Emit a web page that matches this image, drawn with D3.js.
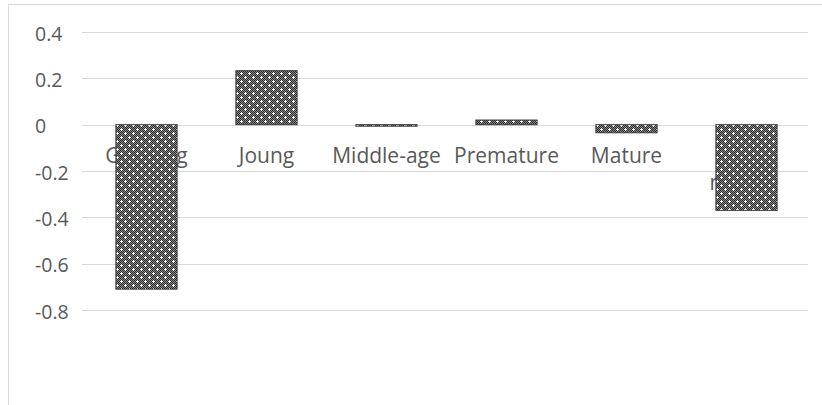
<!DOCTYPE html>
<html lang="en">
<head>
    <meta charset="UTF-8">
    <title>Chart</title>
    <script src="https://d3js.org/d3.v7.min.js"></script>
    <style>
        body { margin: 0; background: #fff; }
        .grid line { stroke: #d9d9d9; stroke-width: 1; }
        .tick-label, .cat-label {
            font-family: "Open Sans", "Noto Sans", sans-serif;
            fill: #595959;
        }
        .tick-label { font-size: 19.5px; }
        .cat-label { font-size: 21px; }
        .bar { fill: url(#dots); stroke: #3a3a3a; stroke-width: 1; }
    </style>
</head>
<body>
<script>
    const width = 822;
    const height = 405;

    const categories = ["Growing", "Joung", "Middle-age", "Premature", "Mature", "Over-mature"];
    const values = [-0.71, 0.233, -0.005, 0.02, -0.035, -0.37];
    const yTicks = [0.4, 0.2, 0, -0.2, -0.4, -0.6, -0.8];

    const svg = d3.select("body").append("svg")
            .attr("width", width).attr("height", height);

    // chart frame
    svg.append("rect")
        .attr("x", 8.5).attr("y", 4.5)
        .attr("width", width + 10).attr("height", height + 10)
        .attr("fill", "none").attr("stroke", "#d9d9d9");

    // dotted fill pattern
    const defs = svg.append("defs");
    const pat = defs.append("pattern")
        .attr("id", "dots").attr("patternUnits", "userSpaceOnUse")
        .attr("width", 8).attr("height", 8);
    pat.append("rect").attr("width", 8).attr("height", 8).attr("fill", "#8a8a8a");
    for (let i = 0; i < 8; i++) {
        for (let j = 0; j < 8; j++) {
            if ((i + j) % 2 === 0) {
                pat.append("rect").attr("x", i).attr("y", j)
                    .attr("width", 1).attr("height", 1).attr("fill", "#2a2a2a");
            }
        }
    }
    [[1, 1], [5, 5]].forEach(([cx, cy]) => {
        pat.append("rect").attr("x", cx - 1).attr("y", cy).attr("width", 3).attr("height", 1).attr("fill", "#fff");
        pat.append("rect").attr("x", cx).attr("y", cy - 1).attr("width", 1).attr("height", 3).attr("fill", "#fff");
    });

    const x = d3.scaleBand()
        .domain(categories)
        .range([86.5, 806.5])
        .paddingInner(0.49)
        .paddingOuter(0.245);

    const y = d3.scaleLinear()
        .domain([-0.8, 0.4])
        .range([310, 32]);

    // gridlines
    svg.append("g").attr("class", "grid")
        .selectAll("line")
        .data(yTicks)
        .enter()
        .append("line")
        .attr("x1", 82).attr("x2", 808)
        .attr("y1", d => Math.round(y(d)) + 0.5)
        .attr("y2", d => Math.round(y(d)) + 0.5);

    // y tick labels
    svg.append("g")
        .selectAll("text")
        .data(yTicks)
        .enter()
        .append("text")
        .attr("class", "tick-label")
        .attr("x", 35)
        .attr("y", d => y(d) + 8.5)
        .attr("text-anchor", "start")
        .text(d => String(d));

    // category labels (drawn under the bars, like the original)
    const labels = svg.append("g")
        .selectAll("text")
        .data(categories)
        .enter()
        .append("text")
        .attr("class", "cat-label")
        .attr("text-anchor", "middle")
        .attr("x", d => x(d) + x.bandwidth() / 2)
        .attr("y", 163);
    labels.each(function(d) {
        const parts = d === "Over-mature" ? ["Over-", "mature"] : [d];
        const t = d3.select(this);
        parts.forEach((p, i) => {
            const ts = t.append("tspan")
                .attr("x", x(d) + x.bandwidth() / 2)
                .attr("dy", i === 0 ? 0 : 27)
                .text(p);
            if (i > 0) ts.attr("dx", -3).attr("letter-spacing", -0.6);
        });
    });

    // bars
    svg.append("g")
        .selectAll("rect")
        .data(categories)
        .enter()
        .append("rect")
        .attr("class", "bar")
        .attr("x", d => x(d))
        .attr("width", x.bandwidth())
        .attr("y", (d, i) => y(Math.max(0, values[i])))
        .attr("height", (d, i) => Math.max(1.5, Math.abs(y(values[i]) - y(0))));
</script>
</body>
</html>
